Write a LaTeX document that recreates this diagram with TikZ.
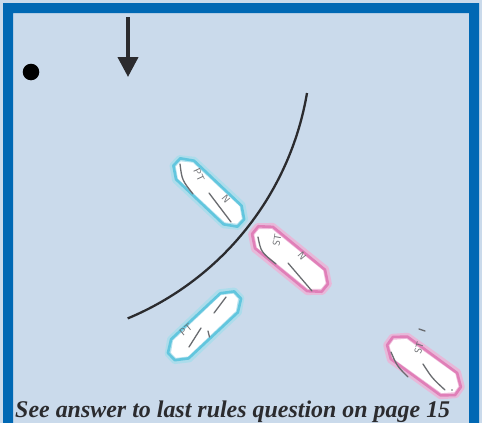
\documentclass[tikz,border=0pt]{standalone}
\usepackage{fontspec}
\newfontfamily\captionfont{Liberation Serif}
\usetikzlibrary{arrows.meta}
\definecolor{paper}{HTML}{CADAEB}
\definecolor{frameblue}{HTML}{0068B4}
\definecolor{ink}{HTML}{2B2B2E}
\definecolor{pencil}{HTML}{6A6C70}
\definecolor{cyanline}{HTML}{62C6DE}
\definecolor{cyanhalo}{HTML}{A9DDEC}
\definecolor{pinkline}{HTML}{E07FB8}
\definecolor{pinkhalo}{HTML}{EDB3D6}
\tikzset{
  pencilmark/.style={draw=pencil, line width=1.3pt, line cap=round},
  scrawl/.style={text=pencil, font=\sffamily\fontsize{10}{10}\selectfont, inner sep=0pt},
  pointer/.style={draw=ink, line width=4pt, -{Triangle[length=20pt,width=20pt]}},
}
% #1,#2 centre, #3 rotation, #4 half length, #5 half width, #6 stroke, #7 halo
\newcommand{\sailboat}[7]{%
  \begin{scope}[shift={(#1,#2)}, rotate=#3]
    \path[fill=white] (-#4,-5) -- ({-#4+12},-#5) -- ({#4-12},-#5) -- (#4,-5)
      -- (#4,5) -- ({#4-12},#5) -- ({-#4+12},#5) -- (-#4,5) -- cycle;
    \draw[#7, line width=6pt, line join=round, opacity=0.85]
      (-#4,-5) -- ({-#4+12},-#5) -- ({#4-12},-#5) -- (#4,-5)
      -- (#4,5) -- ({#4-12},#5) -- ({-#4+12},#5) -- (-#4,5) -- cycle;
    \draw[#6, line width=2.6pt, line join=round]
      ({-#4+0.8},-5.5) -- ({-#4+12.5},{-#5+0.8}) -- ({#4-12},{-#5+1.3}) -- ({#4-0.8},-4.5)
      -- ({#4-0.8},5.5) -- ({#4-12.5},{#5-0.8}) -- ({-#4+12},{#5-1.3}) -- ({-#4+0.8},4.5) -- cycle;
  \end{scope}}
\begin{document}
\begin{tikzpicture}[x=1pt, y=-1pt]
  \useasboundingbox (0,0) rectangle (482,423);
  \fill[paper] (0,0) rectangle (482,423);
  % open-bottomed blue frame
  \fill[frameblue, even odd rule] (3,3) rectangle (479,423) (13,13) rectangle (469,424);

  % wind arrow and mark
  \coordinate (arrowtop) at (128,17);
  \coordinate (arrowtip) at (128,77);
  \draw[pointer] (arrowtop) -- (arrowtip);
  \fill[black] (31,72) circle (8.3);

  % zone arc
  \coordinate (arcstart) at (307,93);
  \draw[ink, line width=2.3pt] (arcstart) arc[start angle=9.6, end angle=67.4, radius=298];

  % boats
  \sailboat{208.8}{192.5}{-43}{45}{14}{cyanline}{cyanhalo}
  \sailboat{290}{259}{-39}{46}{15}{pinkline}{pinkhalo}
  \sailboat{204.5}{325.8}{43.5}{46}{14}{cyanline}{cyanhalo}
  \sailboat{424}{366}{-35.7}{43}{15}{pinkline}{pinkhalo}

  % markings, upper port-tack boat
  \draw[pencilmark] (180,164) .. controls (182,180) .. (193,194);
  \node[scrawl, rotate=-65] (ptone) at (199,175) {PT};
  \draw[pencilmark] (209,193) -- (231,222);
  \node[scrawl, rotate=-50] (none) at (226,199) {N};

  % markings, first starboard-tack boat
  \draw[pencilmark] (258,237) .. controls (261,252) .. (276,264);
  \node[scrawl, rotate=80] (stone) at (277,240) {ST};
  \draw[pencilmark] (288,263) -- (312,291);
  \node[scrawl, rotate=-50] (ntwo) at (302,256) {N};

  % markings, lower port-tack boat
  \draw[pencilmark] (226,297) -- (214,313);
  \node[scrawl, rotate=40] (pttwo) at (186,330) {PT};
  \draw[pencilmark] (201,328) -- (189,347);
  \draw[pencilmark] (208,331) -- (209.5,337);

  % markings, second starboard-tack boat
  \draw[pencilmark] (391,352) .. controls (397,366) .. (408,377);
  \node[scrawl, rotate=75] (sttwo) at (419,348) {ST};
  \draw[pencilmark] (423,364) .. controls (432,378) .. (445,390);
  \draw[pencilmark] (419,329) -- (425,331);
  \fill[pencil] (452,390) circle (0.8);

  % caption
  \node[anchor=base west, inner sep=0pt, text=ink] (caption) at (15,417)
    {\resizebox{435pt}{!}{\captionfont\bfseries\itshape See answer to last rules question on page 15}};
\end{tikzpicture}
\end{document}
